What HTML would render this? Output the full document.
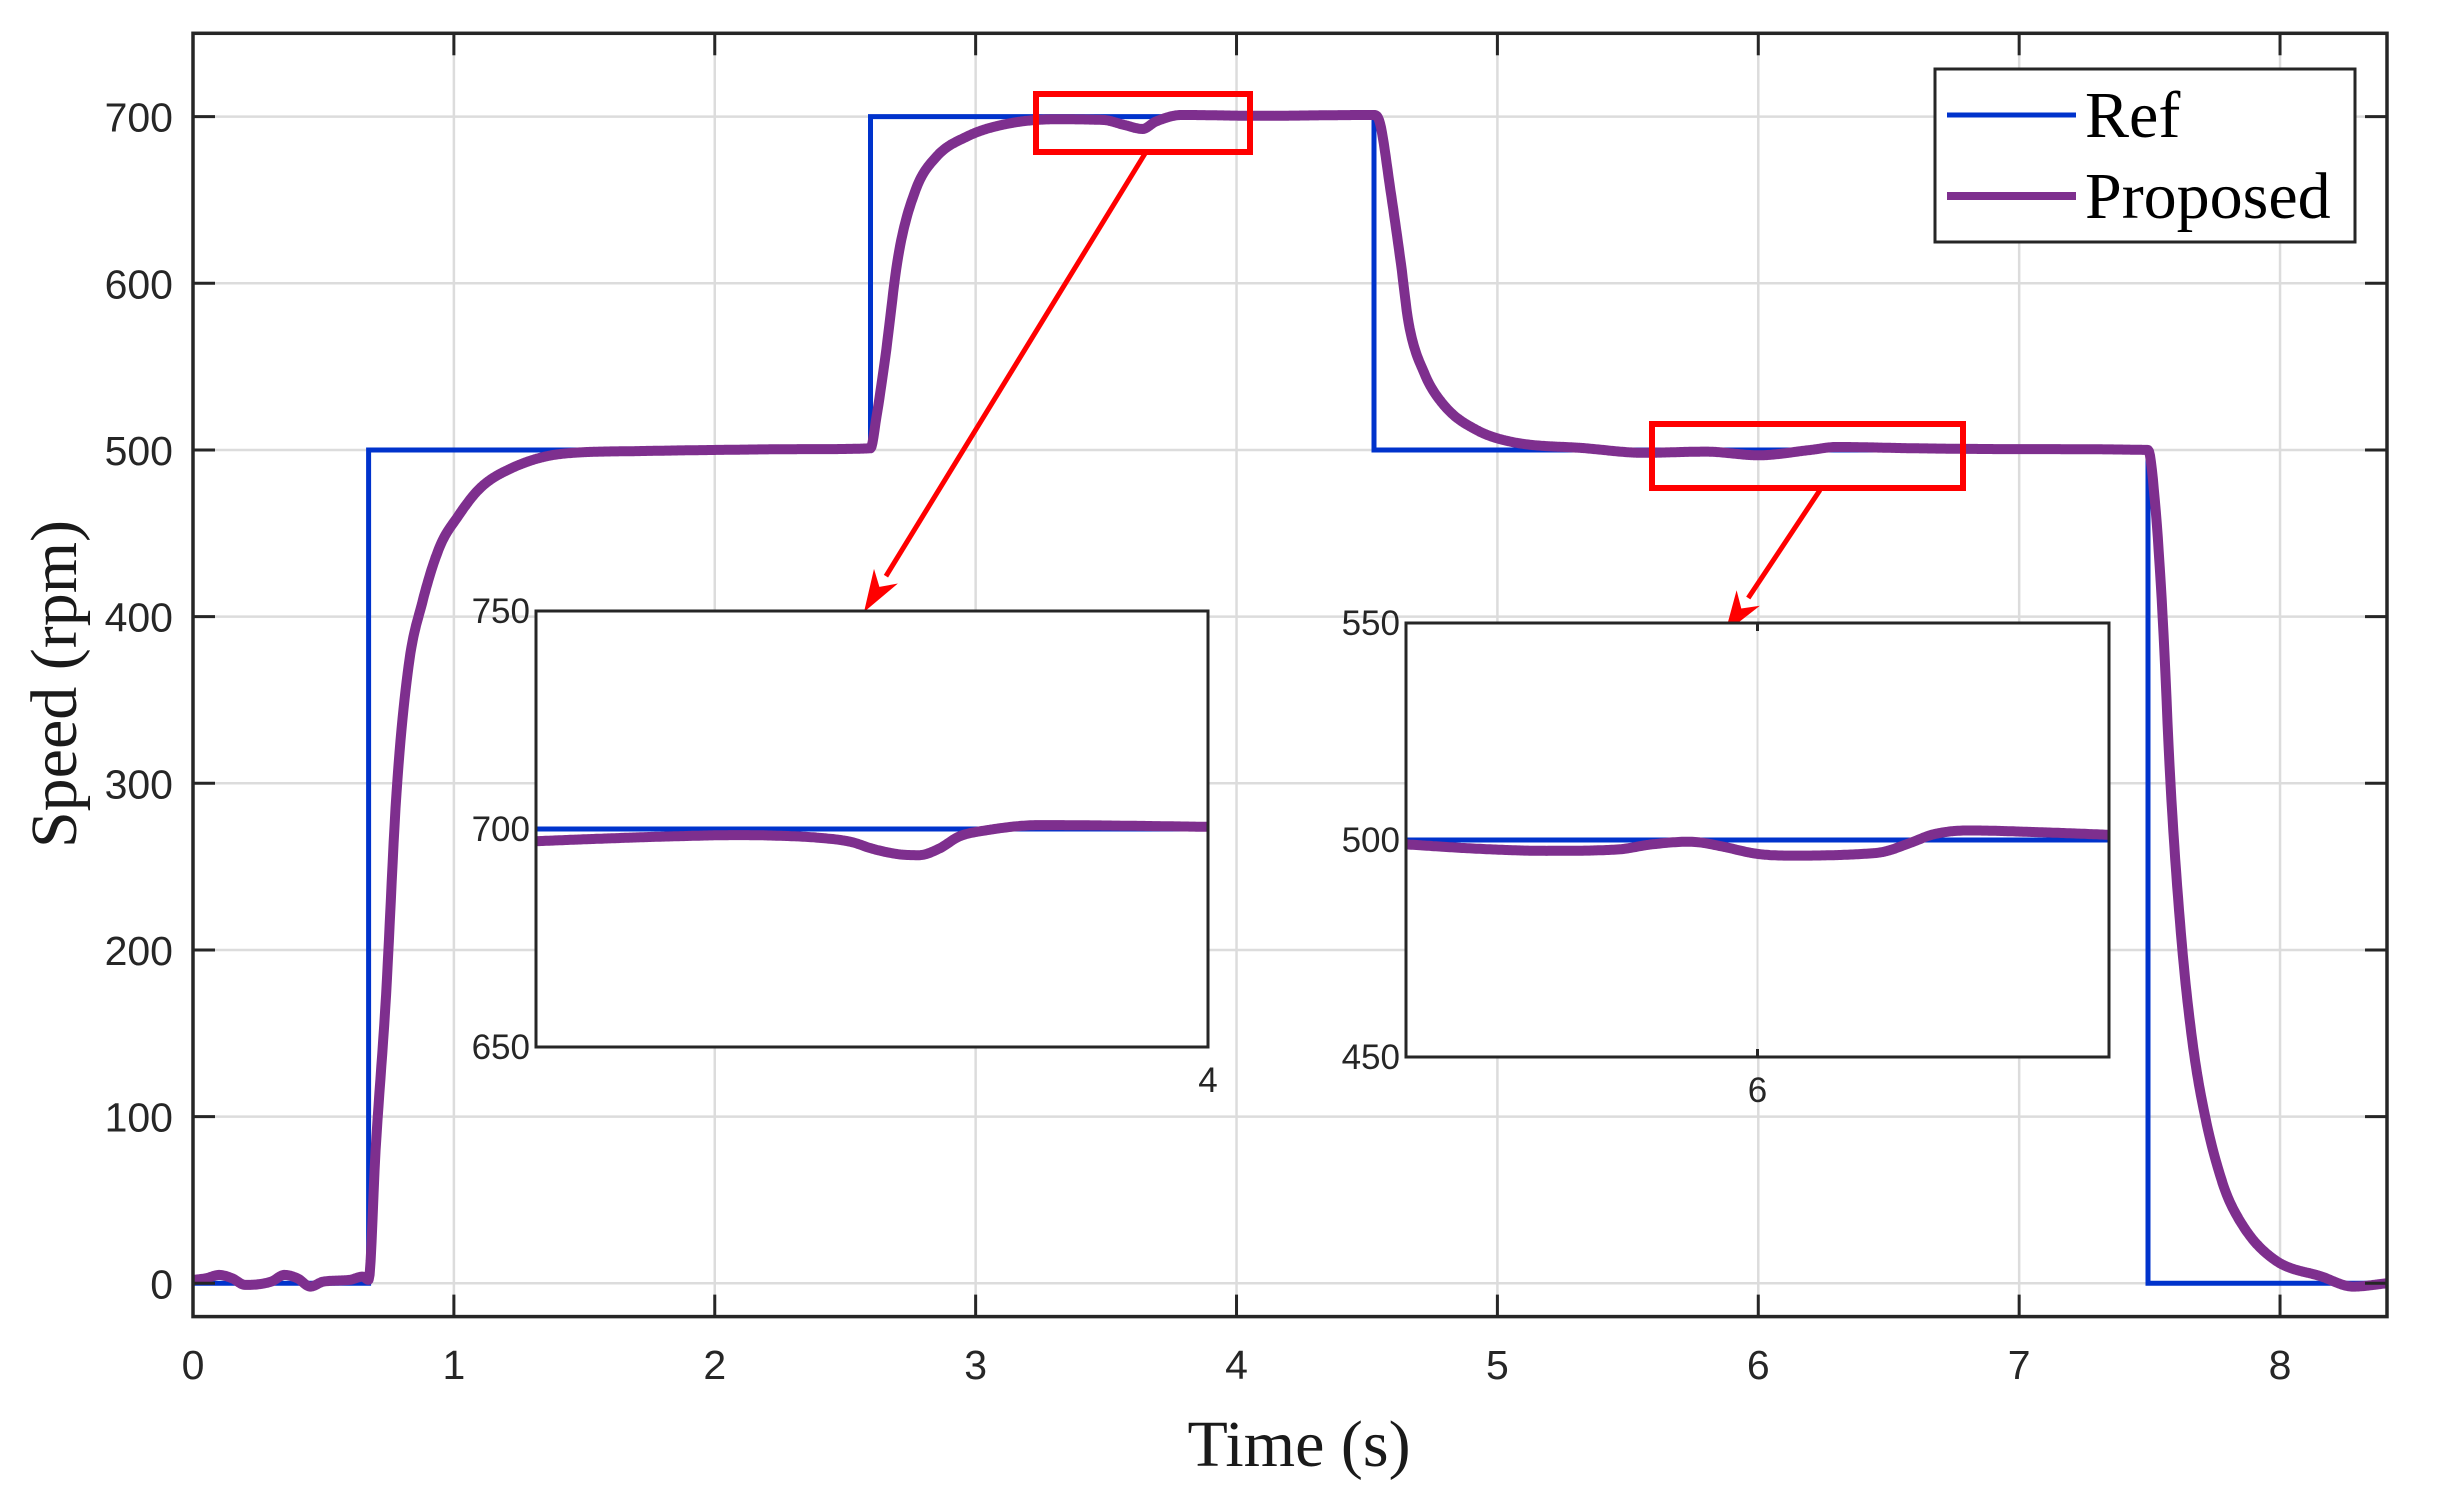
<!DOCTYPE html>
<html><head><meta charset="utf-8"><style>
html,body{margin:0;padding:0;background:#fff;}
svg{display:block;}
</style></head><body>
<svg id="chart" width="2443" height="1494" viewBox="0 0 2443 1494" xmlns="http://www.w3.org/2000/svg">
<rect width="2443" height="1494" fill="#fff"/>
<g id="grid"></g>
<g id="series"></g>
<g id="axes"></g>
<g id="annot"></g>
<g id="insets"></g>
<g id="legend"></g>
</svg>
<script>
const xTicks=[0,1,2,3,4,5,6,7,8];
const yTicks=[0,100,200,300,400,500,600,700];
const refT=[0,0.673,0.673,2.597,2.597,4.527,4.527,7.494,7.494,8.41];
const refV=[0,0,500,500,700,700,500,500,0,0];
const propT=[0,0.05,0.1,0.15,0.2,0.3,0.35,0.4,0.45,0.5,0.6,0.65,0.673,0.7,0.74,0.78,0.826,0.878,0.946,1.015,1.1,1.22,1.41,1.7,2.0,2.37,2.597,2.62,2.654,2.703,2.77,2.85,2.966,3.1,3.3,3.49,3.57,3.64,3.69,3.79,4.08,4.527,4.55,4.59,4.63,4.66,4.72,4.8,4.92,5.05,5.34,5.56,5.8,6.0,6.2,6.3,6.6,7.0,7.494,7.52,7.55,7.58,7.62,7.66,7.7,7.78,7.86,7.98,8.16,8.28,8.41];
const propV=[2,3,5,3,-1,1,5,3,-2,1,2,4,2,80,173,294,370,408,442,460,477,489,497.6,499.3,500,500.5,501,520,556,616,656,676,688,695,698.4,698,695,692.6,697,701,700.5,701,696,656,612,576,546,526,512,505,501,498.3,499,496.8,500,501.8,501,500.5,500,470,400,300,210,150,110,60,34,14,4,-2,0];
const inset1T=[3.3,3.37,3.44,3.51,3.545,3.594,3.629,3.65,3.678,3.699,3.72,3.741,3.769,3.825,3.895,4.0];
const inset1V=[697.2,697.8,698.3,698.6,698.5,698,697,695.5,694.2,694,695.5,698.3,699.7,700.9,700.8,700.5];
const inset2T=[5.45,5.56,5.67,5.78,5.835,5.89,5.912,5.945,6.0,6.055,6.165,6.198,6.242,6.275,6.33,6.44,6.55];
const inset2V=[499,498,497.5,497.8,499,499.6,499.4,498.5,496.8,496.4,496.8,497.3,499.5,501.3,502.2,501.8,501.2];
const inset1YTicks=[650,700,750];
const inset2YTicks=[450,500,550];

const NS='http://www.w3.org/2000/svg';
const L=193,R=2387,T=33.3,B=1316.6,XMIN=0,XMAX=8.41,YMIN=-20,YMAX=750;
const sx=t=>L+(t-XMIN)/(XMAX-XMIN)*(R-L);
const sy=v=>B-(v-YMIN)/(YMAX-YMIN)*(B-T);
function mk(tag,attrs,parent){const e=document.createElementNS(NS,tag);for(const k in attrs)e.setAttribute(k,attrs[k]);parent.appendChild(e);return e;}
const grid=document.getElementById('grid'),series=document.getElementById('series'),axes=document.getElementById('axes'),annot=document.getElementById('annot'),insets=document.getElementById('insets'),legend=document.getElementById('legend');

function smooth(ts,vs,step){
  const n=ts.length,d=[],m=new Array(n).fill(0);
  for(let i=0;i<n-1;i++)d.push((vs[i+1]-vs[i])/(ts[i+1]-ts[i]));
  m[0]=d[0];m[n-1]=d[n-2];
  for(let i=1;i<n-1;i++){m[i]=(d[i-1]*d[i]<=0)?0:(d[i-1]+d[i])/2;}
  for(let i=0;i<n-1;i++){if(d[i]===0){m[i]=0;m[i+1]=0;continue;}
    const a=m[i]/d[i],b=m[i+1]/d[i],s=a*a+b*b;if(s>9){const k=3/Math.sqrt(s);m[i]=k*a*d[i];m[i+1]=k*b*d[i];}}
  const oT=[],oV=[];
  for(let i=0;i<n-1;i++){const h=ts[i+1]-ts[i],ns=Math.max(1,Math.ceil(h/step));
    for(let j=0;j<ns;j++){const u=j/ns,h00=2*u*u*u-3*u*u+1,h10=u*u*u-2*u*u+u,h01=-2*u*u*u+3*u*u,h11=u*u*u-u*u;
      oT.push(ts[i]+u*h);oV.push(h00*vs[i]+h10*h*m[i]+h01*vs[i+1]+h11*h*m[i+1]);}}
  oT.push(ts[n-1]);oV.push(vs[n-1]);return [oT,oV];}

xTicks.forEach(t=>{if(t>0){const g=mk('line',{x1:sx(t),x2:sx(t),y1:T,y2:B,stroke:'#dcdcdc','stroke-width':2.5},grid);

}
const tk1=mk('line',{x1:sx(t),x2:sx(t),y1:B,y2:B-22,stroke:'#262626','stroke-width':3},axes);


mk('line',{x1:sx(t),x2:sx(t),y1:T,y2:T+22,stroke:'#262626','stroke-width':3},axes);
const lb=mk('text',{x:sx(t),y:1379,'text-anchor':'middle','font-family':'Liberation Sans, sans-serif','font-size':41,fill:'#262626'},axes);lb.textContent=t;

});
yTicks.forEach(v=>{const g=mk('line',{x1:L,x2:R,y1:sy(v),y2:sy(v),stroke:'#dcdcdc','stroke-width':2.5},grid);


mk('line',{x1:L,x2:L+22,y1:sy(v),y2:sy(v),stroke:'#262626','stroke-width':3},axes);
mk('line',{x1:R,x2:R-22,y1:sy(v),y2:sy(v),stroke:'#262626','stroke-width':3},axes);
const lb=mk('text',{x:173,y:sy(v)+15,'text-anchor':'end','font-family':'Liberation Sans, sans-serif','font-size':41,fill:'#262626'},axes);lb.textContent=v;

});
const box=mk('rect',{x:L,y:T,width:R-L,height:B-T,fill:'none',stroke:'#262626','stroke-width':3.5},axes);


const xl=mk('text',{x:1299,y:1466,'text-anchor':'middle','font-family':'Liberation Serif, serif','font-size':66,fill:'#1a1a1a'},axes);xl.textContent='Time (s)';


const yl=mk('text',{x:0,y:0,'text-anchor':'middle','font-family':'Liberation Serif, serif','font-size':66,fill:'#1a1a1a',transform:'translate(76,684) rotate(-90)'},axes);yl.textContent='Speed (rpm)';



function pts(ts,vs,fx,fy){return ts.map((t,i)=>fx(t).toFixed(1)+','+fy(vs[i]).toFixed(1)).join(' ');}
const refLine=mk('polyline',{points:pts(refT,refV,sx,sy),fill:'none',stroke:'#0033cc','stroke-width':5},series);


const sm=smooth(propT,propV,0.004);
const propLine=mk('polyline',{points:pts(sm[0],sm[1],sx,sy),fill:'none',stroke:'#7e2f8e','stroke-width':10,'stroke-linejoin':'round'},series);



const rb1=mk('rect',{x:1036,y:94,width:214,height:58,fill:'none',stroke:'#ff0000','stroke-width':6},annot);


const rb2=mk('rect',{x:1652,y:424,width:311,height:64,fill:'none',stroke:'#ff0000','stroke-width':6},annot);


function arrow(x1,y1,x2,y2,name){const a=Math.atan2(y2-y1,x2-x1),len=42,w=14;
const bx=x2-len*Math.cos(a),by=y2-len*Math.sin(a);
const ln=mk('line',{x1:x1,y1:y1,x2:bx,y2:by,stroke:'#ff0000','stroke-width':5},annot);


const p=[[x2,y2],[bx+w*Math.sin(a),by-w*Math.cos(a)],[x2-len*0.7*Math.cos(a),y2-len*0.7*Math.sin(a)],[bx-w*Math.sin(a),by+w*Math.cos(a)]];
const hd=mk('polygon',{points:p.map(q=>q[0].toFixed(1)+','+q[1].toFixed(1)).join(' '),fill:'#ff0000'},annot);

}
arrow(1146,152,864,612,'arrow-1');
arrow(1820,490,1725,633,'arrow-2');

function inset(bx0,by0,bx1,by1,t0,t1,v0,v1,ts,vs,yt,xlab,xlabT,name){
const g=mk('g',{},insets);


const fx=t=>bx0+(t-t0)/(t1-t0)*(bx1-bx0),fy=v=>by1-(v-v0)/(v1-v0)*(by1-by0);
mk('rect',{x:bx0,y:by0,width:bx1-bx0,height:by1-by0,fill:'#fff'},g);
if(xlabT>t0&&xlabT<t1){mk('line',{x1:fx(xlabT),x2:fx(xlabT),y1:by0,y2:by1,stroke:'#dcdcdc','stroke-width':2},g);
mk('line',{x1:fx(xlabT),x2:fx(xlabT),y1:by1,y2:by1-8,stroke:'#262626','stroke-width':3},g);
mk('line',{x1:fx(xlabT),x2:fx(xlabT),y1:by0,y2:by0+8,stroke:'#262626','stroke-width':3},g);}
const rl=mk('line',{x1:bx0,x2:bx1,y1:fy(yt[1]),y2:fy(yt[1]),stroke:'#0033cc','stroke-width':5},g);


const s=smooth(ts,vs,(t1-t0)/400);
const pl=mk('polyline',{points:pts(s[0],s[1],fx,fy),fill:'none',stroke:'#7e2f8e','stroke-width':10,'stroke-linejoin':'round'},g);


mk('rect',{x:bx0,y:by0,width:bx1-bx0,height:by1-by0,fill:'none',stroke:'#262626','stroke-width':3},g);
yt.forEach(v=>{const tx=mk('text',{x:bx0-6,y:fy(v)+12,'text-anchor':'end','font-family':'Liberation Sans, sans-serif','font-size':35,fill:'#262626'},g);tx.textContent=v;

});
const xt=mk('text',{x:fx(xlabT),y:by1+45,'text-anchor':'middle','font-family':'Liberation Sans, sans-serif','font-size':35,fill:'#262626'},g);xt.textContent=xlab;

}
inset(536,611,1208,1047,3.3,4.0,650,750,inset1T,inset1V,inset1YTicks,'4',4.0,'inset-1');
inset(1406,623,2109,1057,5.45,6.55,450,550,inset2T,inset2V,inset2YTicks,'6',6.0,'inset-2');

const lbx=mk('rect',{x:1935,y:69,width:420,height:173,fill:'#fff',stroke:'#262626','stroke-width':3},legend);


[['Ref','#0033cc',115,5,'legend-entry-ref'],['Proposed','#7e2f8e',196,8,'legend-entry-proposed']].forEach(e=>{
const g=mk('g',{},legend);


mk('line',{x1:1947,x2:2076,y1:e[2],y2:e[2],stroke:e[1],'stroke-width':e[3]},g);
const tx=mk('text',{x:2085,y:e[2]+22,'font-family':'Liberation Serif, serif','font-size':66,fill:'#000'},g);tx.textContent=e[0];});
</script>
</body></html>
